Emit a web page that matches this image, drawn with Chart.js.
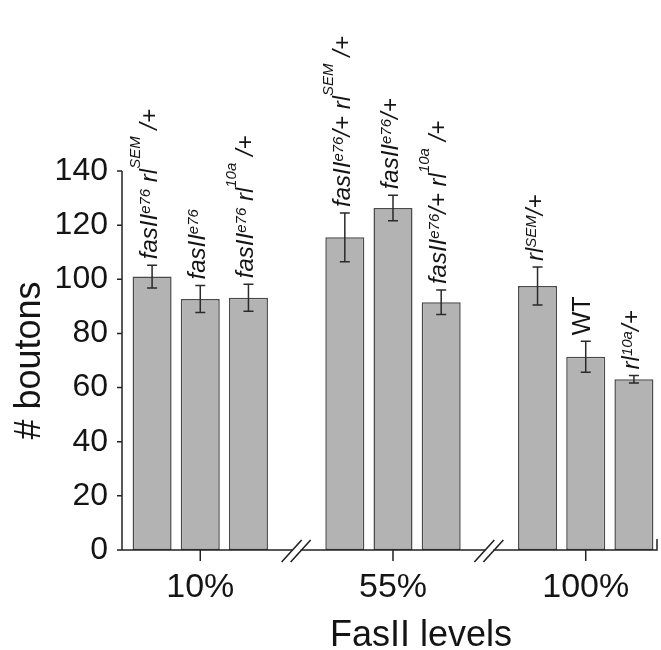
<!DOCTYPE html>
<html>
<head>
<meta charset="utf-8">
<script src="https://cdn.jsdelivr.net/npm/chart.js@4.4.1/dist/chart.umd.min.js"></script>
<style>
	html, body { margin: 0; padding: 0; background: #fff; }
	#chart { display: block; }
</style>
</head>
<body>
<canvas id="chart" width="661" height="650"></canvas>
<script>
// bars, left to right ( ^{..} = superscript )
var genotypes = ['fasII^{e76} rl^{SEM} /+', 'fasII^{e76}', 'fasII^{e76} rl^{10a} /+',
	'fasII^{e76}/+ rl^{SEM} /+', 'fasII^{e76}/+', 'fasII^{e76}/+ rl^{10a} /+',
	'rl^{SEM}/+', 'WT', 'rl^{10a}/+'];
var fasLevels = ['10%', '55%', '100%'];
var boutons = [101, 92.7, 93.2, 115.5, 126.3, 91.5, 97.5, 71.4, 63.1];
var sem = [4.2, 5, 5, 9, 4.7, 4.5, 7, 5.7, 1.4];
var yTicks = [0, 20, 40, 60, 80, 100, 120, 140];
var xTitle = 'FasII levels';
var yTitle = '# boutons';
var perGroup = 3;

var family = '"Liberation Sans", Arial, Helvetica, sans-serif';
var ink = '#141414';

// one slot per bar, plus an empty slot where the axis is broken
var slots = [], values = [], tickNames = [];
for (var g = 0; g < fasLevels.length; g++) {
	if (g > 0) {
		slots.push(-1);
		values.push(null);
		tickNames.push('');
	}
	for (var k = 0; k < perGroup; k++) {
		var i = g * perGroup + k;
		slots.push(i);
		values.push(boutons[i]);
		tickNames.push(k == 1 ? fasLevels[g] : '');
	}
}

function splitLabel(txt){
	var parts = [], re = /\^\{([^}]*)\}/g, last = 0, m;
	while ((m = re.exec(txt)) !== null) {
		if (m.index > last) parts.push({t: txt.substring(last, m.index), sup: false});
		parts.push({t: m[1], sup: true});
		last = re.lastIndex;
	}
	if (last < txt.length) parts.push({t: txt.substring(last), sup: false});
	return parts;
}

// genotype written upwards from (x, y)
function drawGenotype(ctx, txt, x, y){
	ctx.save();
	ctx.translate(x, y);
	ctx.rotate(-Math.PI / 2);
	ctx.fillStyle = ink;
	ctx.textAlign = 'left';
	ctx.textBaseline = 'alphabetic';
	if (txt == 'WT') {
		ctx.font = '25px ' + family;
		ctx.fillText(txt, 0, 4);
		ctx.restore();
		return;
	}
	var pos = 0, nSup = 0;
	splitLabel(txt).forEach(function(p){
		var shift = 0;
		if (p.sup) {
			nSup++;
			ctx.font = 'italic 15px ' + family;
			shift = nSup > 1 ? 17 : 7;
		} else {
			ctx.font = 'italic 24px ' + family;
		}
		ctx.fillText(p.t, pos, 5 - shift);
		pos += ctx.measureText(p.t).width;
	});
	ctx.restore();
}

var decorations = {
	id: 'decorations',
	afterDatasetsDraw: function(chart){
		var ctx = chart.ctx, area = chart.chartArea;
		var xs = chart.scales.x, ys = chart.scales.y;
		var meta = chart.getDatasetMeta(0);
		var axisX = area.left - 6, bottom = area.bottom;
		ctx.save();
		ctx.strokeStyle = '#222';
		ctx.lineWidth = 1.5;
		ctx.lineCap = 'butt';

		// y axis with ticks
		ctx.beginPath();
		ctx.moveTo(axisX, ys.getPixelForValue(yTicks[yTicks.length - 1]));
		ctx.lineTo(axisX, bottom);
		yTicks.forEach(function(v){
			var py = ys.getPixelForValue(v);
			ctx.moveTo(axisX - 5, py);
			ctx.lineTo(axisX, py);
		});
		// x axis, broken between groups, small upturn at the end
		ctx.moveTo(axisX, bottom);
		var breaks = [];
		slots.forEach(function(s, j){ if (s < 0) breaks.push(xs.getPixelForValue(j)); });
		breaks.forEach(function(bx){
			ctx.lineTo(bx - 4, bottom);
			ctx.moveTo(bx + 4, bottom);
		});
		ctx.lineTo(area.right - 1, bottom);
		ctx.lineTo(area.right - 1, bottom - 11);
		tickNames.forEach(function(n, j){
			if (n === '') return;
			var px = xs.getPixelForValue(j);
			ctx.moveTo(px, bottom);
			ctx.lineTo(px, bottom + 11);
		});
		ctx.stroke();

		// the // marks
		ctx.lineWidth = 1.6;
		ctx.beginPath();
		breaks.forEach(function(bx){
			[-5, 4].forEach(function(o){
				ctx.moveTo(bx + o - 10, bottom + 12);
				ctx.lineTo(bx + o + 10, bottom - 10);
			});
		});
		ctx.stroke();

		// error bars and genotype labels
		ctx.lineWidth = 1.5;
		ctx.strokeStyle = '#2a2a2a';
		slots.forEach(function(s, j){
			if (s < 0) return;
			var bar = meta.data[j];
			var top = ys.getPixelForValue(boutons[s] + sem[s]);
			var low = ys.getPixelForValue(boutons[s] - sem[s]);
			ctx.beginPath();
			ctx.moveTo(bar.x, top);
			ctx.lineTo(bar.x, low);
			ctx.moveTo(bar.x - 5, top);
			ctx.lineTo(bar.x + 5, top);
			ctx.moveTo(bar.x - 5, low);
			ctx.lineTo(bar.x + 5, low);
			ctx.stroke();
			drawGenotype(ctx, genotypes[s], bar.x, top - 6);
		});

		// x title, set a little right of the middle group
		ctx.fillStyle = ink;
		ctx.font = '36px ' + family;
		ctx.textAlign = 'center';
		ctx.textBaseline = 'alphabetic';
		ctx.fillText(xTitle, xs.getPixelForValue(5) + 28, 646);
		ctx.restore();
	}
};

var chart = new Chart(document.getElementById('chart'), {
	type: 'bar',
	data: {
		labels: tickNames,
		datasets: [{
			data: values,
			backgroundColor: '#b3b3b3',
			borderColor: '#4a4a4a',
			borderWidth: 1.5,
			borderSkipped: false,
			barPercentage: 0.81,
			categoryPercentage: 1
		}]
	},
	options: {
		responsive: false,
		animation: false,
		devicePixelRatio: 1,
		layout: { padding: { top: 171, right: 3, bottom: 0, left: 0 } },
		plugins: {
			legend: { display: false },
			tooltip: { enabled: false }
		},
		scales: {
			x: {
				grid: { display: false, drawTicks: false },
				border: { display: false },
				ticks: {
					autoSkip: false,
					maxRotation: 0,
					padding: 17,
					color: ink,
					font: { family: family, size: 34 }
				},
				afterFit: function(s){ s.height = 100; }
			},
			y: {
				min: 0,
				max: 140,
				afterBuildTicks: function(s){
					s.ticks = yTicks.map(function(v){ return {value: v}; });
				},
				grid: { display: false, drawTicks: false },
				border: { display: false },
				ticks: {
					padding: 20,
					color: ink,
					font: { family: family, size: 32 }
				},
				title: {
					display: true,
					text: yTitle,
					color: ink,
					font: { family: family, size: 36 },
					padding: { top: 8, bottom: 0 }
				},
				afterFit: function(s){ s.width = 128; }
			}
		}
	},
	plugins: [decorations]
});
</script>
</body>
</html>
